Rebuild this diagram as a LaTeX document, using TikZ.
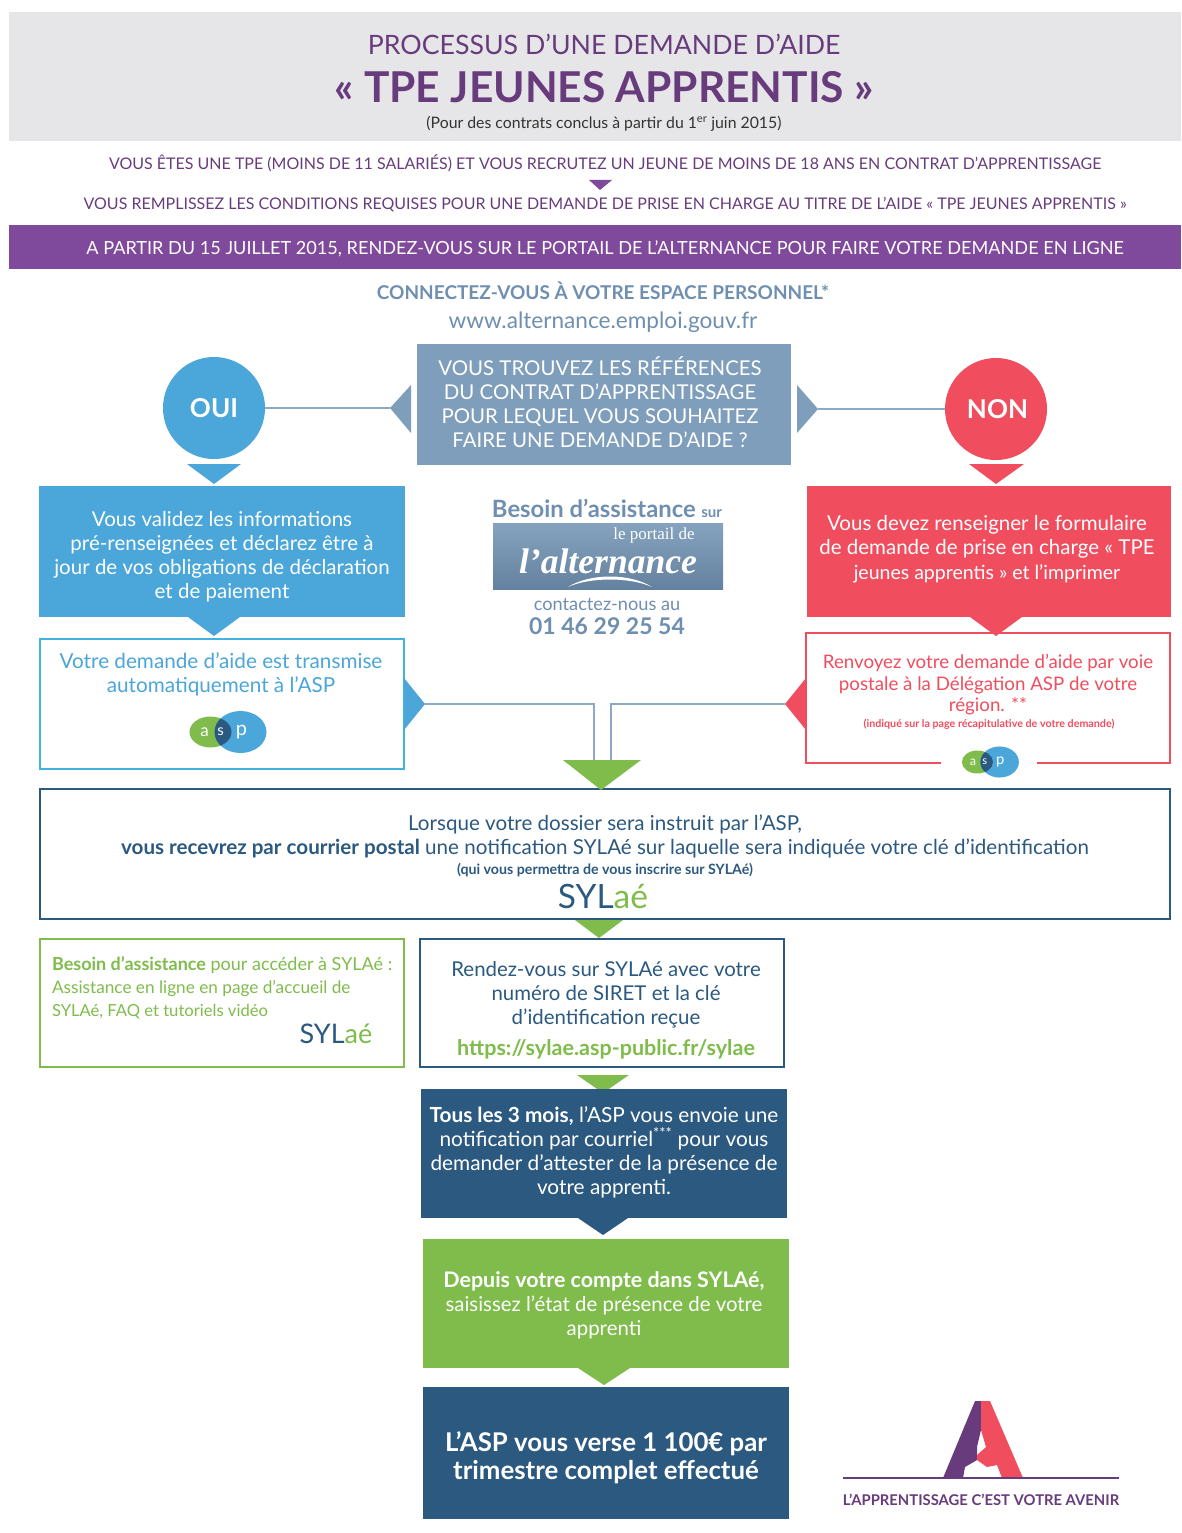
\documentclass[tikz,border=0pt]{standalone}
\usepackage{fontspec}
\setmainfont{Lato}
\newfontfamily\serifl{Liberation Serif}
\definecolor{grayhd}{HTML}{E6E6E8}
\definecolor{purp}{HTML}{683C7C}
\definecolor{band}{HTML}{7F4A9B}
\definecolor{steel}{HTML}{7F9EBC}
\definecolor{steeltx}{HTML}{6F8FB0}
\definecolor{bluec}{HTML}{4BA6D9}
\definecolor{redc}{HTML}{F04E5E}
\definecolor{darkb}{HTML}{2B5980}
\definecolor{greenc}{HTML}{7FBC4B}
\definecolor{linec}{HTML}{8BA8C4}
\newcommand\fsz[1]{\fontsize{#1}{#1}\selectfont}
\newcommand\fl[2]{\fontsize{#1}{#2}\selectfont}
\newcommand\bx[6]{\node[#1,minimum width={#5-#3},minimum height={#6-#4}] (#2) at ({(#3+#5)/2},{(#4+#6)/2}) {};}
\newcommand\tri[4]{\fill[#1] #2 -- #3 -- #4 -- cycle;}
\newcommand\asplogo[3]{%
  \begin{scope}[shift={(#1,#2)},scale=#3]
    \fill[greenc] (-17,0) ellipse (21 and 15.5);
    \fill[bluec] (13,0) ellipse (26 and 21);
    \begin{scope}
      \clip (-17,0) ellipse (21 and 15.5);
      \fill[darkb] (13,0) ellipse (26 and 21);
    \end{scope}
    \node[lbl,white] at (-23,0) {\fsz{\fpeval{17*#3}}a};
    \node[lbl,white] at (-7,0) {\fsz{\fpeval{15*#3}}s};
    \node[lbl,white] at (14,0) {\fsz{\fpeval{20*#3}}p};
  \end{scope}}
\tikzset{
  x=1pt,y=-1pt,
  lbl/.style={inner sep=0pt,outer sep=0pt,align=center},
  solidbox/.style={fill=#1,draw=none,inner sep=0pt,outer sep=0pt},
  linebox/.style={draw=#1,line width=2pt,fill=white,inner sep=0pt,outer sep=0pt},
  conn/.style={draw=linec,line width=2pt},
}
\begin{document}
\begin{tikzpicture}
\useasboundingbox (0,0) rectangle (1181,1533);
\fill[white] (0,0) rectangle (1181,1533);
% header
\bx{solidbox=grayhd}{hd}{9}{12}{1181}{141}
\node[lbl,purp] (t1) at (604,44) {\fsz{26.7}PROCESSUS D’UNE DEMANDE D’AIDE};
\node[lbl,purp] (t2) at (604,87) {\fsz{42.5}\bfseries « TPE JEUNES APPRENTIS »};
\node[lbl,black!80] (t3) at (604,123.5) {\fsz{15.8}(Pour des contrats conclus à partir du 1\textsuperscript{er} juin 2015)};
\node[lbl,purp] (l1) at (605,163) {\fsz{16}VOUS ÊTES UNE TPE (MOINS DE 11 SALARIÉS) ET VOUS RECRUTEZ UN JEUNE DE MOINS DE 18 ANS EN CONTRAT D’APPRENTISSAGE};
\tri{band}{(589,180)}{(612,180)}{(600,190)}
\node[lbl,purp] (l2) at (605,205) {\fsz{16}VOUS REMPLISSEZ LES CONDITIONS REQUISES POUR UNE DEMANDE DE PRISE EN CHARGE AU TITRE DE L’AIDE « TPE JEUNES APPRENTIS »};
\bx{solidbox=band}{bandb}{9}{225}{1181}{269}
\node[lbl,white] (l3) at (605,249) {\fsz{18.1}A PARTIR DU 15 JUILLET 2015, RENDEZ-VOUS SUR LE PORTAIL DE L’ALTERNANCE POUR FAIRE VOTRE DEMANDE EN LIGNE};
\node[lbl,steeltx] (cx) at (603,291) {\fsz{19}\bfseries CONNECTEZ-VOUS À VOTRE ESPACE PERSONNEL*};
\node[lbl,steeltx] (url) at (603,322) {\fsz{22.6}www.alternance.emploi.gouv.fr};
% question
\bx{solidbox=steel}{q}{417}{344}{791}{465}
\node[lbl,white,font=\fl{20.4}{24}] (qt) at (600,402) {VOUS TROUVEZ LES RÉFÉRENCES\\DU CONTRAT D’APPRENTISSAGE\\POUR LEQUEL VOUS SOUHAITEZ\\FAIRE UNE DEMANDE D’AIDE ?};
% oui non
\node[circle,fill=bluec,minimum size=102pt,inner sep=0pt,text=white,font=\fsz{26}\bfseries] (oui) at (214,408) {OUI};
\node[circle,fill=redc,minimum size=102pt,inner sep=0pt,text=white,font=\fsz{26}\bfseries] (non) at (996,409) {\hspace{3pt}NON};
\coordinate (ql) at (390,408);
\coordinate (qr) at (818,409);
\draw[conn] (oui) -- (ql);
\draw[conn] (non) -- (qr);
\tri{steel}{(ql)}{(411,385)}{(411,433)}
\tri{steel}{(qr)}{(797,385)}{(797,433)}
\tri{bluec}{(187,464)}{(241,464)}{(214,484)}
\tri{redc}{(969,464)}{(1024,464)}{(996,484)}
% blue / red solid
\bx{solidbox=bluec}{va}{39}{486}{405}{617}
\node[lbl,white,font=\fl{20.5}{24}] (vat) at (222,557) {Vous validez les informations\\pré-renseignées et déclarez être à\\jour de vos obligations de déclaration\\et de paiement};
\bx{solidbox=redc}{vd}{807}{486}{1171}{617}
\node[lbl,white,font=\fl{20.5}{24.5}] (vdt) at (987,549) {Vous devez renseigner le formulaire\\de demande de prise en charge « TPE\\\fl{19.5}{24.5}jeunes apprentis » et l’imprimer};
% outlined
\bx{linebox=bluec!85!cyan}{tr}{40}{639}{404}{769}
\node[lbl,bluec,font=\fl{20.7}{24}] (trt) at (221,674) {Votre demande d’aide est transmise\\automatiquement à l’ASP};
\asplogo{227.5}{732}{1}
\draw[redc,line width=2pt] (941,763) -- (806,763) -- (806,633) -- (1170,633) -- (1170,763) -- (1037,763);
\node[lbl,redc,font=\fl{18.7}{21.5}] (rvt) at (988,685) {Renvoyez votre demande d’aide par voie\\postale à la Délégation ASP de votre\\région. **};
\node[lbl,redc] (rvs) at (989,724) {\fsz{10.7}\bfseries (indiqué sur la page récapitulative de votre demande)};
\asplogo{990}{762}{0.74}
\tri{bluec}{(188,617)}{(240,617)}{(214,636)}
\tri{redc}{(970,617)}{(1022,617)}{(996,636)}
% junction lines
\coordinate (jl) at (425,704);
\coordinate (jr) at (785,704);
\coordinate (gl) at (594,760);
\coordinate (gr) at (611,760);
\draw[conn] (jl) -| (gl);
\draw[conn] (jr) -| (gr);
\tri{bluec}{(jl)}{(404,678)}{(404,730)}
\tri{redc}{(jr)}{(806,678)}{(806,730)}
% main notification
\bx{linebox=darkb}{nt}{40}{789}{1170}{919}
\tri{greenc}{(563,760)}{(641,760)}{(601,790)}
\node[lbl,darkb,font=\fl{20.6}{24}] (ntt) at (605,836) {Lorsque votre dossier sera instruit par l’ASP,\\\textbf{vous recevrez par courrier postal} une notification SYLAé sur laquelle sera indiquée votre clé d’identification};
\node[lbl,darkb] (nts) at (605,870) {\fsz{14.2}\bfseries (qui vous permettra de vous inscrire sur SYLAé)};
\node[lbl] (syl1) at (603,896) {\fsz{33.5}\textcolor{darkb}{SYL}\textcolor{greenc}{aé}};
\tri{greenc}{(575,920)}{(623,920)}{(599,938)}
% assistance SYLAe
\bx{linebox=greenc}{as}{40}{939}{404}{1067}
\node[lbl,greenc,align=left,anchor=west,font=\fl{18}{23}] (ast) at (52,988) {\textbf{Besoin d’assistance} pour accéder à SYLAé :\\\fl{17.2}{23}Assistance en ligne en page d’accueil de\\\fl{16.6}{23}SYLAé, FAQ et tutoriels vidéo};
\node[lbl] (syl2) at (336,1034) {\fsz{27}\textcolor{darkb}{SYL}\textcolor{greenc}{aé}};
% rendez-vous
\bx{linebox=darkb}{rd}{420}{939}{784}{1067}
\node[lbl,darkb,font=\fl{20.4}{24}] (rdt) at (606,995) {Rendez-vous sur SYLAé avec votre\\numéro de SIRET et la clé\\d’identification reçue};
\node[lbl,greenc] (lnk) at (606,1049) {\fsz{21.5}\bfseries https://sylae.asp-public.fr/sylae};
\tri{greenc}{(577,1075)}{(629,1075)}{(603,1093)}
% tous les 3 mois
\bx{solidbox=darkb}{tl}{421}{1089}{787}{1218}
\node[lbl,white,font=\fl{20.8}{24}] (tlt) at (604,1152) {\textbf{Tous les 3 mois,} l’ASP vous envoie une\\notification par courriel\textsuperscript{***} pour vous\\demander d’attester de la présence de\\votre apprenti.};
\tri{darkb}{(578,1218)}{(628,1218)}{(603,1235)}
% depuis
\bx{solidbox=greenc}{dp}{423}{1239}{789}{1368}
\node[lbl,white,font=\fl{21.4}{24}] (dpt) at (604,1305) {\textbf{Depuis votre compte dans SYLAé,}\\\fl{20.4}{24}saisissez l’état de présence de votre\\\fl{20.4}{24}apprenti};
\tri{greenc}{(578,1368)}{(630,1368)}{(604,1385)}
% verse
\bx{solidbox=darkb}{vr}{423}{1387}{789}{1519}
\node[lbl,white,font=\fl{25.8}{28}\bfseries] (vrt) at (606,1458) {L’ASP vous verse 1 100€ par\\trimestre complet effectué};
% assistance centre
\node[lbl,steeltx] (bs) at (607,508) {\fsz{23.8}\bfseries Besoin d’assistance \fsz{15}sur};
\bx{top color=steel!95!white,bottom color=steeltx!90!black,draw=none,inner sep=0pt,outer sep=0pt}{pt}{493}{523}{723}{589}
\node[lbl,white] (pt1) at (654,535) {\serifl\fsz{17}le portail de};
\node[lbl,white] (pt2) at (608,561) {\serifl\fsz{35.6}\bfseries\itshape l’alternance};
\fill[white] (568,587) .. controls (590,573) and (630,573) .. (652,587) .. controls (630,577) and (590,577) .. (568,587) -- cycle;
\node[lbl,steeltx] (ctc) at (607,604) {\fsz{18.2}contactez-nous au};
\node[lbl,steeltx] (tel) at (607,626) {\fsz{23}\bfseries 01 46 29 25 54};
% logo A
\fill[purp] (975,1401) -- (981,1401) -- (981,1430) -- (977,1447) -- (977,1460) -- (965,1467) -- (963,1478) -- (943,1478) -- cycle;
\fill[redc] (981,1401) -- (990,1401) -- (1023,1478) -- (1002,1478) -- (997,1465) -- (987,1467) -- (977,1460) -- (977,1455) -- (986,1447) -- (981,1430) -- cycle;
\coordinate (al) at (843,1478);
\coordinate (ar) at (1119,1478);
\draw[purp,line width=1.5pt] (al) -- (ar);
\node[lbl,purp] (ap) at (981,1500) {\fsz{14.8}\bfseries L’APPRENTISSAGE C’EST VOTRE AVENIR};
\end{tikzpicture}
\end{document}
